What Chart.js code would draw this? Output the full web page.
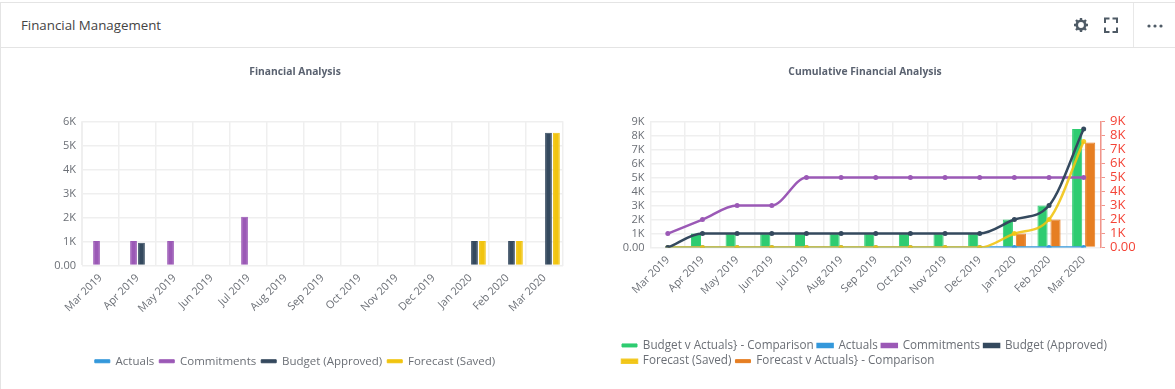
<!DOCTYPE html>
<html><head><meta charset="utf-8">
<style>
html,body{margin:0;padding:0;background:#fff;width:1175px;height:389px;overflow:hidden;font-family:"Open Sans",sans-serif}
#top{position:absolute;left:0;top:2px;width:1175px;height:44px;border-top:1px solid #e4e4e4;border-bottom:1px solid #e4e4e4;border-left:1px solid #e4e4e4}
#ttl{position:absolute;left:21px;top:17px;font-size:13.3px;line-height:16px;color:#444;white-space:nowrap}
#sep{position:absolute;left:1133px;top:3px;width:1px;height:44px;background:#e8e8e8}
#leftb{position:absolute;left:0;top:47px;width:1px;height:342px;background:#e4e4e4}
#icons{position:absolute;left:1060px;top:3px}
canvas{position:absolute}
#c1{left:0;top:60px}
#c2{left:590px;top:60px}
</style>
<script src="https://cdn.jsdelivr.net/npm/chart.js@4"></script>
</head><body>
<div id="top"></div><div id="leftb"></div>
<div id="ttl">Financial Management</div><div id="sep"></div>
<svg id="icons" width="110" height="44" viewBox="0 0 110 44">
<g fill="none" stroke="#4f5b66">
<circle cx="21" cy="22" r="4.2" stroke-width="2.6"/>
<g stroke-width="2.4"><path d="M21 15v3M21 26v3M14 22h3M25 22h3M16 17l2 2M24 25l2 2M26 17l-2 2M18 25l-2 2"/></g>
<path d="M45 20v-4.500h4.500M52.500 15.500h4.500v4.500M57 24.500v4.500h-4.500M49.500 29h-4.500v-4.500" stroke-width="2"/>
</g>
<g fill="#4f5b66"><circle cx="89" cy="23" r="1.600"/><circle cx="95" cy="23" r="1.600"/><circle cx="101" cy="23" r="1.600"/></g>
</svg>
<canvas id="c1" width="590" height="320"></canvas>
<canvas id="c2" width="550" height="320"></canvas>
<script>
const months=["Mar 2019","Apr 2019","May 2019","Jun 2019","Jul 2019","Aug 2019","Sep 2019","Oct 2019","Nov 2019","Dec 2019","Jan 2020","Feb 2020","Mar 2020"];
const a_actuals=[0,0,0,0,0,0,0,0,0,0,0,0,0];
const a_commit=[1020,1020,1020,0,2030,0,0,0,0,0,0,0,0];
const a_budget=[0,950,0,0,0,0,0,0,0,0,1020,1020,5530];
const a_forecast=[0,0,0,0,0,0,0,0,0,0,1020,1020,5530];
const b_budgetComp=[0,1000,1000,1000,1000,1000,1000,1000,1000,1000,2000,3000,8450];
const b_actuals=[0,0,0,0,0,0,0,0,0,0,0,0,0];
const b_commit=[1000,2000,3000,3000,5000,5000,5000,5000,5000,5000,5000,5000,5000];
const b_budget=[0,1000,1000,1000,1000,1000,1000,1000,1000,1000,2000,3000,8450];
const b_forecast=[0,0,0,0,0,0,0,0,0,0,1000,2000,7570];
const b_forecastComp=[0,0,0,0,0,0,0,0,0,0,1000,2000,7500];
const C={green:"#2ecc71",blue:"#3498db",purple:"#9b59b6",dark:"#34495e",yellow:"#f1c40f",orange:"#e67e22"};
const txt="#6b6f76", grid="#efefef", FF='"Open Sans",sans-serif';
const fmt=v=>v===0?"0.00":(v/1000)+"K";
Chart.defaults.font.family=FF;
Chart.defaults.animation=false;
const common=(title,pad,lp,align,ls,lh)=>({
  responsive:false,animation:false,
  layout:{padding:pad},
  plugins:{
    title:{display:true,text:title,color:"#5a6270",font:{size:10.300,weight:"bold",family:FF},padding:{top:5.500,bottom:43.500}},
    legend:{position:"bottom",align,labels:{boxWidth:15,boxHeight:3,color:txt,font:{size:ls,family:FF,lineHeight:lh},padding:lp,sort:(a,b)=>a.datasetIndex-b.datasetIndex}},
    tooltip:{enabled:false}
  }
});
const xAxis=h=>({grid:{color:grid,lineWidth:1.5,drawTicks:false},border:{color:grid},afterFit(s){s.height=h},
  ticks:{color:txt,font:{size:10.800,family:FF},minRotation:45,maxRotation:45,autoSkip:false,padding:6}});
const yAxis=(max,w)=>({min:0,max,grid:{color:grid,lineWidth:1.5,drawTicks:false},border:{color:grid},afterFit(s){s.width=w},
  ticks:{stepSize:1000,autoSkip:false,callback:fmt,color:txt,font:{size:11,family:FF},padding:6}});
const bar=(label,data,c,cp,bp)=>({type:"bar",label,data,backgroundColor:c,borderColor:c,borderWidth:1,categoryPercentage:cp,barPercentage:bp});
new Chart(document.getElementById("c1"),{type:"bar",
  data:{labels:months,datasets:[bar("Actuals",a_actuals,C.blue,.86,.85),bar("Commitments",a_commit,C.purple,.86,.85),bar("Budget (Approved)",a_budget,C.dark,.86,.85),bar("Forecast (Saved)",a_forecast,C.yellow,.86,.85)]},
  options:{...common("Financial Analysis",{left:27,right:27,top:0,bottom:3},5,"center",11.500,1.2),
    scales:{x:xAxis(85),y:yAxis(6000,55)}}
});
const line=(label,data,c,order)=>({type:"line",label,data,order,borderColor:c,backgroundColor:c,borderWidth:2.5,pointRadius:2.5,pointBorderWidth:0,cubicInterpolationMode:"monotone",fill:false,yAxisID:"y"});
new Chart(document.getElementById("c2"),{
  data:{labels:months,datasets:[
    {...bar("Budget v Actuals} - Comparison",b_budgetComp,C.green,.75,.78),order:5},
    line("Actuals",b_actuals,C.blue,4),
    line("Commitments",b_commit,C.purple,3),
    line("Budget (Approved)",b_budget,C.dark,1),
    line("Forecast (Saved)",b_forecast,"rgba(241,196,15,0.88)",2),
    {...bar("Forecast v Actuals} - Comparison",b_forecastComp,C.orange,.75,.78),order:5}
  ]},
  plugins:[{id:"legendLeft",afterLayout(c){c.legend.left=28}}],
  options:{...common("Cumulative Financial Analysis",{left:0,right:0,top:0,bottom:3},4,"start",11.700,1.050),
    scales:{x:xAxis(88),
      y:yAxis(9000,60.500),
      y2:{position:"right",min:0,max:9000,afterFit(s){s.width=39},grid:{drawOnChartArea:false,color:"#f1948a",tickLength:4},border:{color:"#f1948a",width:1.5},
        ticks:{stepSize:1000,autoSkip:false,callback:fmt,color:"#f44336",font:{size:13,family:FF},padding:5}}}}
});
</script>
</body></html>
